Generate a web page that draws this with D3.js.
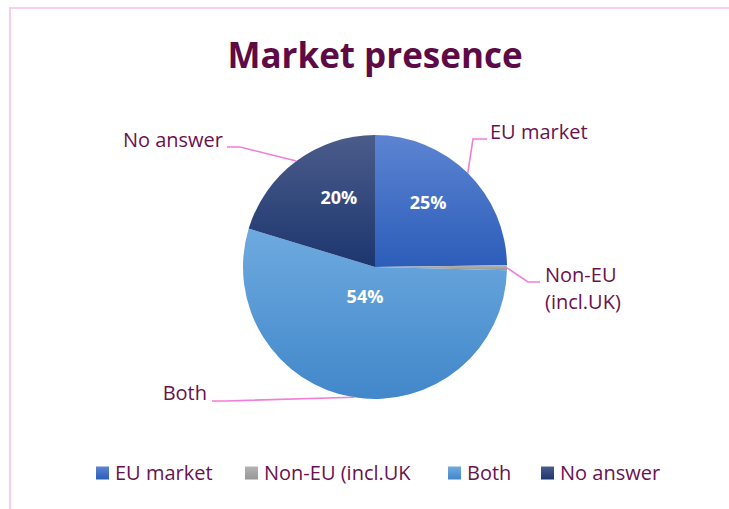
<!DOCTYPE html>
<html>
<head>
<meta charset="utf-8">
<script src="https://cdn.jsdelivr.net/npm/d3@7"></script>
<style>
  body { margin: 0; background: #fff; }
  text { font-family: "Open Sans", Lato, sans-serif; }
</style>
</head>
<body>
<script>
// data
var categories = ["EU market", "Non-EU (incl.UK)", "Both", "No answer"];
var legendLabels = ["EU market", "Non-EU (incl.UK", "Both", "No answer"];
var shares = [24.8, 0.6, 54.3, 20.3];
var pctLabels = ["25%", "", "54%", "20%"];

// look
var W = 729, H = 509,
    cx = 375, cy = 267, radius = 132;

var grads = [
  ["#5c84d2", "#2c5db9"],
  ["#b4b4b4", "#969696"],
  ["#6eaae0", "#4187ca"],
  ["#4b5c8a", "#1c366f"]
];
var textColor = "#6a1150",
    leaderColor = "#f27ed6";

// where the outside labels sit, relative to the centre (y = baseline)
var outside = [
  {elbow: [98, -128], end: [112, -128], tx: 115, ty: [-128], anchor: "start"},
  {elbow: [153, 15], end: [165, 15], tx: 170, ty: [15, 42], anchor: "start", lines: ["Non-EU", "(incl.UK)"]},
  {elbow: [-150, 134], end: [-163, 134], tx: -168, ty: [133], anchor: "end"},
  {elbow: [-135, -120], end: [-148, -120], tx: -152, ty: [-120], anchor: "end"}
];
// percentage label placement: radius fraction and angle shift (deg)
var pctRadius = [0.633, 0, 0.24, 0.59];
var pctShift = [-5.2, 0, 9.2, 8.9];

var svg = d3.select("body").append("svg")
    .attr("width", W)
    .attr("height", H);

var defs = svg.append("defs");
grads.forEach(function(g, i) {
  var lg = defs.append("linearGradient")
      .attr("id", "g" + i)
      .attr("x1", 0).attr("y1", 0).attr("x2", 0).attr("y2", 1);
  lg.append("stop").attr("offset", "0%").attr("stop-color", g[0]);
  lg.append("stop").attr("offset", "100%").attr("stop-color", g[1]);
});

// frame (only top and left show)
svg.append("rect")
    .attr("x", 10).attr("y", 8)
    .attr("width", W + 20).attr("height", H + 20)
    .attr("fill", "none")
    .attr("stroke", "#f9cdee")
    .attr("stroke-width", 2);

svg.append("text")
    .attr("x", cx).attr("y", 68)
    .attr("text-anchor", "middle")
    .attr("font-size", 35)
    .attr("font-weight", "bold")
    .attr("fill", "#5e0a46")
    .text("Market presence");

var pie = d3.pie().sort(null).value(function(d) { return d; });
var arcs = pie(shares);

var arc = d3.arc().innerRadius(0).outerRadius(radius);
var edge = d3.arc().innerRadius(radius).outerRadius(radius);

var g = svg.append("g").attr("transform", "translate(" + cx + "," + cy + ")");

g.selectAll("path.slice")
  .data(arcs)
  .enter().append("path")
    .attr("class", "slice")
    .attr("d", arc)
    .attr("fill", function(d, i) { return "url(#g" + i + ")"; });

// percentage labels
g.selectAll("text.pct")
  .data(arcs)
  .enter().append("text")
    .attr("class", "pct")
    .attr("transform", function(d, i) {
      var r = radius * pctRadius[i];
      var a = (d.startAngle + d.endAngle) / 2 + pctShift[i] * Math.PI / 180;
      return "translate(" + [r * Math.sin(a), -r * Math.cos(a)] + ")";
    })
    .attr("text-anchor", "middle")
    .attr("dy", "0.35em")
    .attr("font-size", 18)
    .attr("font-weight", "bold")
    .attr("fill", "#fff")
    .text(function(d, i) { return pctLabels[i]; });

// leader lines
g.selectAll("polyline.leader")
  .data(arcs)
  .enter().append("polyline")
    .attr("class", "leader")
    .attr("points", function(d, i) {
      var p = edge.centroid(d);
      return [p, outside[i].elbow, outside[i].end].join(" ");
    })
    .attr("fill", "none")
    .attr("stroke", leaderColor)
    .attr("stroke-width", 1.6);

// outside category labels
g.selectAll("text.cat")
  .data(arcs)
  .enter().append("text")
    .attr("class", "cat")
    .attr("x", function(d, i) { return outside[i].tx; })
    .attr("text-anchor", function(d, i) { return outside[i].anchor; })
    .attr("font-size", 20)
    .attr("fill", textColor)
    .each(function(d, i) {
      var o = outside[i];
      var lines = o.lines || [categories[i]];
      var t = d3.select(this);
      lines.forEach(function(l, j) {
        t.append("tspan").attr("x", o.tx).attr("y", o.ty[j]).text(l);
      });
    });

// legend
var legendX = [96, 245, 448, 541];
var legend = svg.append("g").attr("transform", "translate(0,473)");
var items = legend.selectAll("g")
  .data(legendLabels)
  .enter().append("g")
    .attr("transform", function(d, i) { return "translate(" + legendX[i] + ",0)"; });
items.append("rect")
    .attr("x", 0).attr("y", -6.5)
    .attr("width", 13).attr("height", 13)
    .attr("fill", function(d, i) { return "url(#g" + i + ")"; });
items.append("text")
    .attr("x", 19)
    .attr("dy", "0.35em")
    .attr("font-size", 20)
    .attr("fill", textColor)
    .text(function(d) { return d; });
</script>
</body>
</html>
